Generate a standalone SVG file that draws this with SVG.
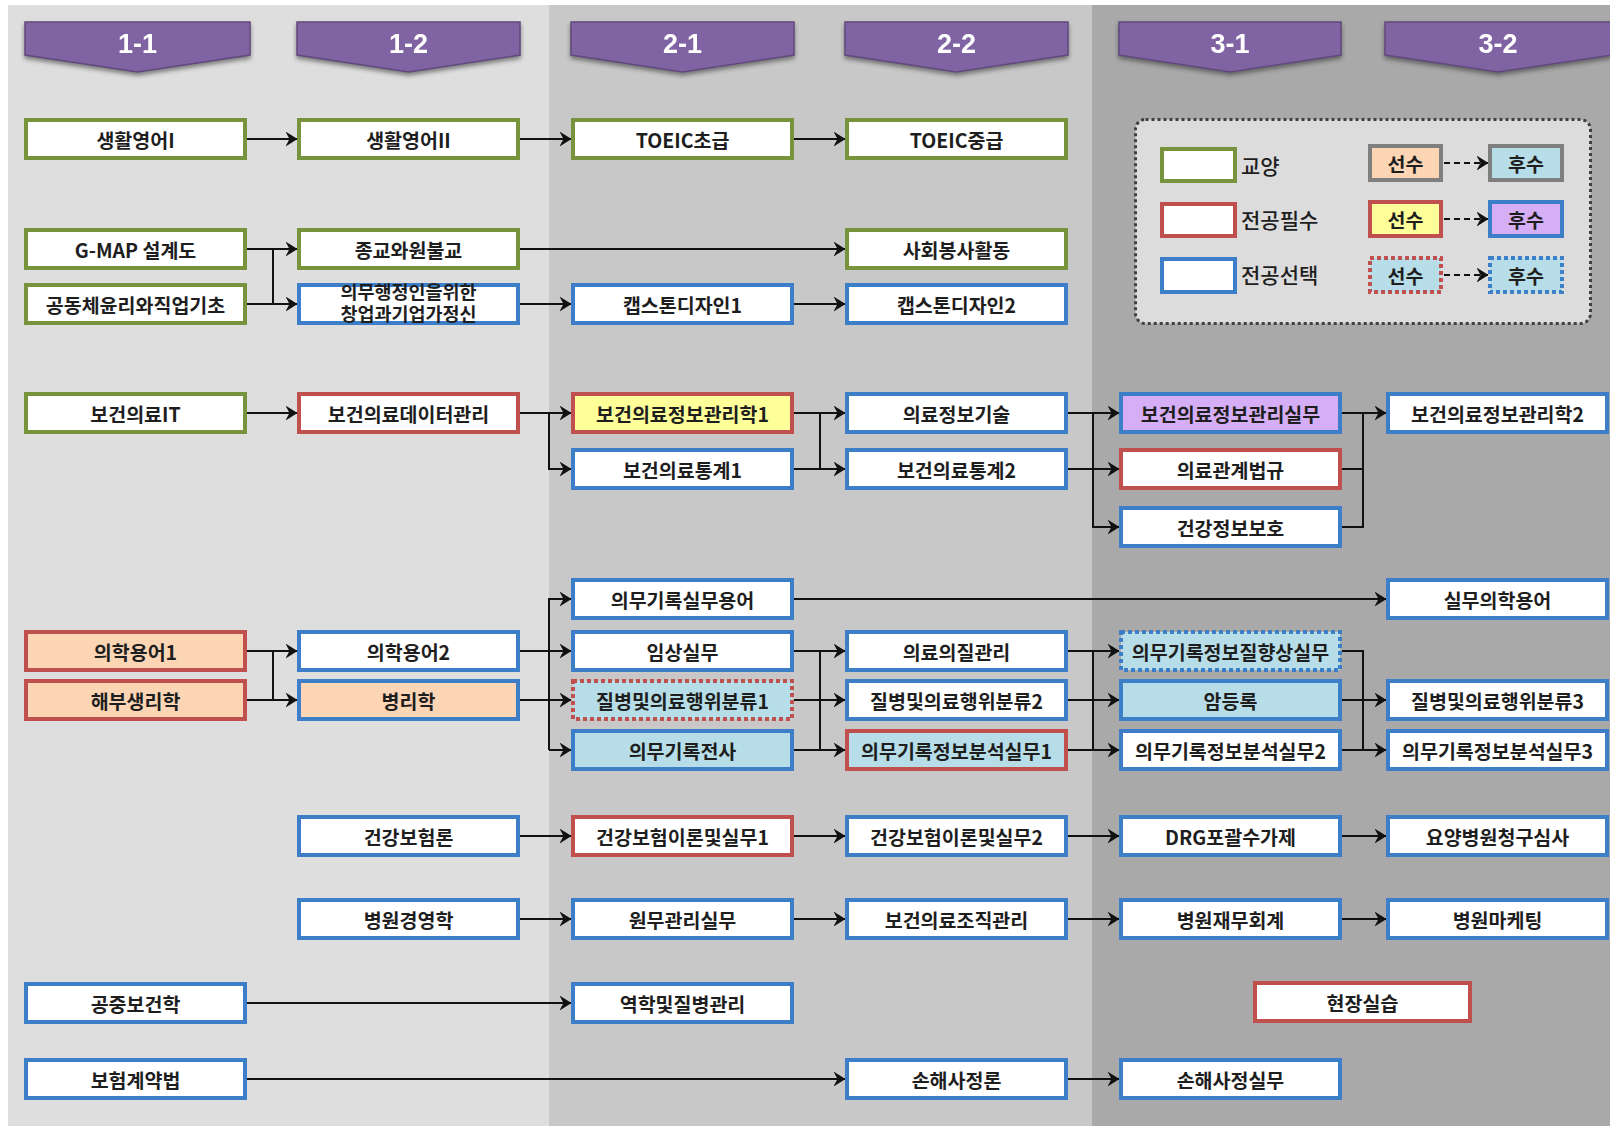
<svg xmlns="http://www.w3.org/2000/svg" width="1610" height="1126" viewBox="0 0 1610 1126">
<defs>
<marker id="ah" markerUnits="userSpaceOnUse" markerWidth="12" markerHeight="15" viewBox="0 0 12 15" refX="11.5" refY="7.5" orient="auto">
<path d="M0,0 L12,7.5 L0,15 L4,7.5 Z" fill="#111"/>
</marker>
<filter id="sh" x="-10%" y="-20%" width="120%" height="160%">
<feDropShadow dx="0" dy="3" stdDeviation="2" flood-color="#333" flood-opacity="0.55"/>
</filter>
<style>
.n rect{stroke-width:4}
.g{stroke:#77933c}
.r{stroke:#c0504d}
.b{stroke:#3d7ec8}
.gr{stroke:#7f7f7f}
.fw{fill:#ffffff}
.fo{fill:#fcd5b4}
.fy{fill:#ffff99}
.fp{fill:#d5aef5}
.fl{fill:#b7dee8}
.dot{stroke-dasharray:4 3}
.t{font-family:"Noto Sans CJK KR","Noto Sans",sans-serif;font-size:19.5px;font-weight:700;fill:#1e1e1e;text-anchor:middle;dominant-baseline:central}
.lg{font-family:"Noto Sans CJK KR","Noto Sans",sans-serif;font-size:21px;font-weight:500;fill:#1e1e1e;dominant-baseline:central}
.hd polygon{fill:#8064a2;stroke:#604a7b;stroke-width:1.5}
.hd text{font-family:"Liberation Sans",Arial,sans-serif;font-size:27px;font-weight:700;fill:#fff;text-anchor:middle}
.c path{fill:none;stroke:#111;stroke-width:2}
.c path.a{marker-end:url(#ah)}
</style>
</defs>
<rect x="0" y="0" width="1610" height="1126" fill="#ffffff"/>
<g id="bands">
<rect x="8" y="5" width="541" height="1121" fill="#dedede"/>
<rect x="549" y="5" width="543" height="1121" fill="#c8c8c8"/>
<rect x="1092" y="5" width="518" height="1121" fill="#a9a9a9"/>
</g>
<g id="headers" class="hd">
<g id="h11" filter="url(#sh)"><polygon points="25,22 250,22 250,55 137.5,72 25,55"/><text x="137.5" y="53">1-1</text></g>
<g id="h12" filter="url(#sh)"><polygon points="297,22 520,22 520,55 408.5,72 297,55"/><text x="408.5" y="53">1-2</text></g>
<g id="h21" filter="url(#sh)"><polygon points="571,22 794,22 794,55 682.5,72 571,55"/><text x="682.5" y="53">2-1</text></g>
<g id="h22" filter="url(#sh)"><polygon points="845,22 1068,22 1068,55 956.5,72 845,55"/><text x="956.5" y="53">2-2</text></g>
<g id="h31" filter="url(#sh)"><polygon points="1119,22 1341,22 1341,55 1230,72 1119,55"/><text x="1230" y="53">3-1</text></g>
<g id="h32" filter="url(#sh)"><polygon points="1385,22 1612,22 1612,55 1498,72 1385,55"/><text x="1498" y="53">3-2</text></g>
</g>
<g id="legend">
<rect x="1135.5" y="119.5" width="455" height="204" rx="10" fill="#dcdcdc" stroke="#404040" stroke-width="3" stroke-dasharray="3 3"/>
<g class="n"><rect class="g fw" x="1162" y="149" width="73" height="32"/></g>
<text class="lg" x="1241" y="165">교양</text>
<g class="n"><rect class="r fw" x="1162" y="204" width="73" height="32"/></g>
<text class="lg" x="1241" y="219">전공필수</text>
<g class="n"><rect class="b fw" x="1162" y="259" width="73" height="33"/></g>
<text class="lg" x="1241" y="274">전공선택</text>
<g class="n"><rect class="gr fo" x="1370" y="146" width="71" height="34"/><text class="t" x="1405.5" y="163">선수</text></g>
<g class="n"><rect class="gr fl" x="1490" y="146" width="72" height="34"/><text class="t" x="1526" y="163">후수</text></g>
<g class="n"><rect class="r fy" x="1370" y="202" width="71" height="34"/><text class="t" x="1405.5" y="219">선수</text></g>
<g class="n"><rect class="b fp" x="1490" y="202" width="72" height="34"/><text class="t" x="1526" y="219">후수</text></g>
<g class="n"><rect class="r fl dot" x="1370" y="258" width="71" height="34"/><text class="t" x="1405.5" y="275">선수</text></g>
<g class="n"><rect class="b fl dot" x="1490" y="258" width="72" height="34"/><text class="t" x="1526" y="275">후수</text></g>
<g class="c">
<path class="a" d="M1444,163 H1488" stroke-dasharray="6 4" stroke-width="2.5"/>
<path class="a" d="M1444,219 H1488" stroke-dasharray="6 4" stroke-width="2.5"/>
<path class="a" d="M1444,275 H1488" stroke-dasharray="6 4" stroke-width="2.5"/>
</g>
</g>
<g id="connectors" class="c">
<path class="a" d="M247,139 H297"/>
<path class="a" d="M520,139 H571"/>
<path class="a" d="M794,139 H845"/>
<path class="a" d="M247,249 H297"/>
<path class="a" d="M247,304 H297"/>
<path d="M273,249 V304"/>
<path class="a" d="M520,249 H845"/>
<path class="a" d="M520,304 H571"/>
<path class="a" d="M794,304 H845"/>
<path class="a" d="M247,413 H297"/>
<path class="a" d="M520,413 H571"/>
<path class="a" d="M549,413 V469 H571"/>
<path class="a" d="M794,413 H845"/>
<path class="a" d="M794,469 H845"/>
<path d="M820,413 V469"/>
<path class="a" d="M1068,413 H1119"/>
<path class="a" d="M1068,469 H1119"/>
<path class="a" d="M1093,413 V527 H1119"/>
<path class="a" d="M1342,413 H1386"/>
<path d="M1342,469 H1363"/>
<path d="M1342,527 H1363 V413"/>
<path class="a" d="M247,651 H297"/>
<path class="a" d="M247,700 H297"/>
<path d="M273,651 V700"/>
<path class="a" d="M520,651 H571"/>
<path class="a" d="M520,700 H571"/>
<path class="a" d="M549,750 V599 H571"/>
<path class="a" d="M549,750 H571"/>
<path class="a" d="M794,599 H1386"/>
<path class="a" d="M794,651 H845"/>
<path class="a" d="M794,700 H845"/>
<path class="a" d="M794,750 H845"/>
<path d="M820,651 V750"/>
<path class="a" d="M1068,651 H1119"/>
<path class="a" d="M1068,700 H1119"/>
<path class="a" d="M1068,750 H1119"/>
<path d="M1093,651 V750"/>
<path d="M1342,651 H1363 V750"/>
<path class="a" d="M1342,700 H1386"/>
<path class="a" d="M1342,750 H1386"/>
<path class="a" d="M520,836 H571"/>
<path class="a" d="M794,836 H845"/>
<path class="a" d="M1068,836 H1119"/>
<path class="a" d="M1342,836 H1386"/>
<path class="a" d="M520,919 H571"/>
<path class="a" d="M794,919 H845"/>
<path class="a" d="M1068,919 H1119"/>
<path class="a" d="M1342,919 H1386"/>
<path class="a" d="M247,1003 H571"/>
<path class="a" d="M247,1079 H845"/>
<path class="a" d="M1068,1079 H1119"/>
</g>
<g id="nodes">
<g id="n-eng1" class="n"><rect class="g fw" x="26" y="120" width="219" height="38"/><text class="t" x="135.5" y="139">생활영어I</text></g>
<g id="n-eng2" class="n"><rect class="g fw" x="299" y="120" width="219" height="38"/><text class="t" x="408.5" y="139">생활영어II</text></g>
<g id="n-toeic1" class="n"><rect class="g fw" x="573" y="120" width="219" height="38"/><text class="t" x="682.5" y="139">TOEIC초급</text></g>
<g id="n-toeic2" class="n"><rect class="g fw" x="847" y="120" width="219" height="38"/><text class="t" x="956.5" y="139">TOEIC중급</text></g>
<g id="n-gmap" class="n"><rect class="g fw" x="26" y="230" width="219" height="38"/><text class="t" x="135.5" y="249">G-MAP 설계도</text></g>
<g id="n-religion" class="n"><rect class="g fw" x="299" y="230" width="219" height="38"/><text class="t" x="408.5" y="249">종교와원불교</text></g>
<g id="n-volunteer" class="n"><rect class="g fw" x="847" y="230" width="219" height="38"/><text class="t" x="956.5" y="249">사회봉사활동</text></g>
<g id="n-ethics" class="n"><rect class="g fw" x="26" y="285" width="219" height="38"/><text class="t" x="135.5" y="304">공동체윤리와직업기초</text></g>
<g id="n-startup" class="n"><rect class="b fw" x="299" y="285" width="219" height="38"/><text class="t" x="408.5" style="font-size:18.5px"><tspan x="408.5" y="291">의무행정인을위한</tspan><tspan x="408.5" y="313">창업과기업가정신</tspan></text></g>
<g id="n-cap1" class="n"><rect class="b fw" x="573" y="285" width="219" height="38"/><text class="t" x="682.5" y="304">캡스톤디자인1</text></g>
<g id="n-cap2" class="n"><rect class="b fw" x="847" y="285" width="219" height="38"/><text class="t" x="956.5" y="304">캡스톤디자인2</text></g>
<g id="n-hit" class="n"><rect class="g fw" x="26" y="394" width="219" height="38"/><text class="t" x="135.5" y="413">보건의료IT</text></g>
<g id="n-data" class="n"><rect class="r fw" x="299" y="394" width="219" height="38"/><text class="t" x="408.5" y="413">보건의료데이터관리</text></g>
<g id="n-him1" class="n"><rect class="r fy" x="573" y="394" width="219" height="38"/><text class="t" x="682.5" y="413">보건의료정보관리학1</text></g>
<g id="n-mit" class="n"><rect class="b fw" x="847" y="394" width="219" height="38"/><text class="t" x="956.5" y="413">의료정보기술</text></g>
<g id="n-himp" class="n"><rect class="b fp" x="1121" y="394" width="219" height="38"/><text class="t" x="1230.5" y="413">보건의료정보관리실무</text></g>
<g id="n-him2" class="n"><rect class="b fw" x="1388" y="394" width="219" height="38"/><text class="t" x="1497.5" y="413">보건의료정보관리학2</text></g>
<g id="n-stat1" class="n"><rect class="b fw" x="573" y="450" width="219" height="38"/><text class="t" x="682.5" y="469">보건의료통계1</text></g>
<g id="n-stat2" class="n"><rect class="b fw" x="847" y="450" width="219" height="38"/><text class="t" x="956.5" y="469">보건의료통계2</text></g>
<g id="n-law" class="n"><rect class="r fw" x="1121" y="450" width="219" height="38"/><text class="t" x="1230.5" y="469">의료관계법규</text></g>
<g id="n-privacy" class="n"><rect class="b fw" x="1121" y="508" width="219" height="38"/><text class="t" x="1230.5" y="527">건강정보보호</text></g>
<g id="n-mrterm" class="n"><rect class="b fw" x="573" y="580" width="219" height="38"/><text class="t" x="682.5" y="599">의무기록실무용어</text></g>
<g id="n-pterm" class="n"><rect class="b fw" x="1388" y="580" width="219" height="38"/><text class="t" x="1497.5" y="599">실무의학용어</text></g>
<g id="n-term1" class="n"><rect class="r fo" x="26" y="632" width="219" height="38"/><text class="t" x="135.5" y="651">의학용어1</text></g>
<g id="n-term2" class="n"><rect class="b fw" x="299" y="632" width="219" height="38"/><text class="t" x="408.5" y="651">의학용어2</text></g>
<g id="n-clinic" class="n"><rect class="b fw" x="573" y="632" width="219" height="38"/><text class="t" x="682.5" y="651">임상실무</text></g>
<g id="n-quality" class="n"><rect class="b fw" x="847" y="632" width="219" height="38"/><text class="t" x="956.5" y="651">의료의질관리</text></g>
<g id="n-mrq" class="n"><rect class="b fl dot" x="1121" y="632" width="219" height="38"/><text class="t" x="1230.5" y="651">의무기록정보질향상실무</text></g>
<g id="n-anat" class="n"><rect class="r fo" x="26" y="681" width="219" height="38"/><text class="t" x="135.5" y="700">해부생리학</text></g>
<g id="n-path" class="n"><rect class="b fo" x="299" y="681" width="219" height="38"/><text class="t" x="408.5" y="700">병리학</text></g>
<g id="n-cls1" class="n"><rect class="r fl dot" x="573" y="681" width="219" height="38"/><text class="t" x="682.5" y="700">질병및의료행위분류1</text></g>
<g id="n-cls2" class="n"><rect class="b fw" x="847" y="681" width="219" height="38"/><text class="t" x="956.5" y="700">질병및의료행위분류2</text></g>
<g id="n-cancer" class="n"><rect class="b fl" x="1121" y="681" width="219" height="38"/><text class="t" x="1230.5" y="700">암등록</text></g>
<g id="n-cls3" class="n"><rect class="b fw" x="1388" y="681" width="219" height="38"/><text class="t" x="1497.5" y="700">질병및의료행위분류3</text></g>
<g id="n-trans" class="n"><rect class="b fl" x="573" y="731" width="219" height="38"/><text class="t" x="682.5" y="750">의무기록전사</text></g>
<g id="n-ana1" class="n"><rect class="r fl" x="847" y="731" width="219" height="38"/><text class="t" x="956.5" y="750">의무기록정보분석실무1</text></g>
<g id="n-ana2" class="n"><rect class="b fw" x="1121" y="731" width="219" height="38"/><text class="t" x="1230.5" y="750">의무기록정보분석실무2</text></g>
<g id="n-ana3" class="n"><rect class="b fw" x="1388" y="731" width="219" height="38"/><text class="t" x="1497.5" y="750">의무기록정보분석실무3</text></g>
<g id="n-ins" class="n"><rect class="b fw" x="299" y="817" width="219" height="38"/><text class="t" x="408.5" y="836">건강보험론</text></g>
<g id="n-ins1" class="n"><rect class="r fw" x="573" y="817" width="219" height="38"/><text class="t" x="682.5" y="836">건강보험이론및실무1</text></g>
<g id="n-ins2" class="n"><rect class="b fw" x="847" y="817" width="219" height="38"/><text class="t" x="956.5" y="836">건강보험이론및실무2</text></g>
<g id="n-drg" class="n"><rect class="b fw" x="1121" y="817" width="219" height="38"/><text class="t" x="1230.5" y="836">DRG포괄수가제</text></g>
<g id="n-claim" class="n"><rect class="b fw" x="1388" y="817" width="219" height="38"/><text class="t" x="1497.5" y="836">요양병원청구심사</text></g>
<g id="n-hosp" class="n"><rect class="b fw" x="299" y="900" width="219" height="38"/><text class="t" x="408.5" y="919">병원경영학</text></g>
<g id="n-admin" class="n"><rect class="b fw" x="573" y="900" width="219" height="38"/><text class="t" x="682.5" y="919">원무관리실무</text></g>
<g id="n-org" class="n"><rect class="b fw" x="847" y="900" width="219" height="38"/><text class="t" x="956.5" y="919">보건의료조직관리</text></g>
<g id="n-fin" class="n"><rect class="b fw" x="1121" y="900" width="219" height="38"/><text class="t" x="1230.5" y="919">병원재무회계</text></g>
<g id="n-mkt" class="n"><rect class="b fw" x="1388" y="900" width="219" height="38"/><text class="t" x="1497.5" y="919">병원마케팅</text></g>
<g id="n-ph" class="n"><rect class="b fw" x="26" y="984" width="219" height="38"/><text class="t" x="135.5" y="1003">공중보건학</text></g>
<g id="n-epi" class="n"><rect class="b fw" x="573" y="984" width="219" height="38"/><text class="t" x="682.5" y="1003">역학및질병관리</text></g>
<g id="n-field" class="n"><rect class="r fw" x="1255" y="983" width="215" height="38"/><text class="t" x="1362.5" y="1002">현장실습</text></g>
<g id="n-inslaw" class="n"><rect class="b fw" x="26" y="1060" width="219" height="38"/><text class="t" x="135.5" y="1079">보험계약법</text></g>
<g id="n-loss" class="n"><rect class="b fw" x="847" y="1060" width="219" height="38"/><text class="t" x="956.5" y="1079">손해사정론</text></g>
<g id="n-lossp" class="n"><rect class="b fw" x="1121" y="1060" width="219" height="38"/><text class="t" x="1230.5" y="1079">손해사정실무</text></g>
</g>
</svg>
